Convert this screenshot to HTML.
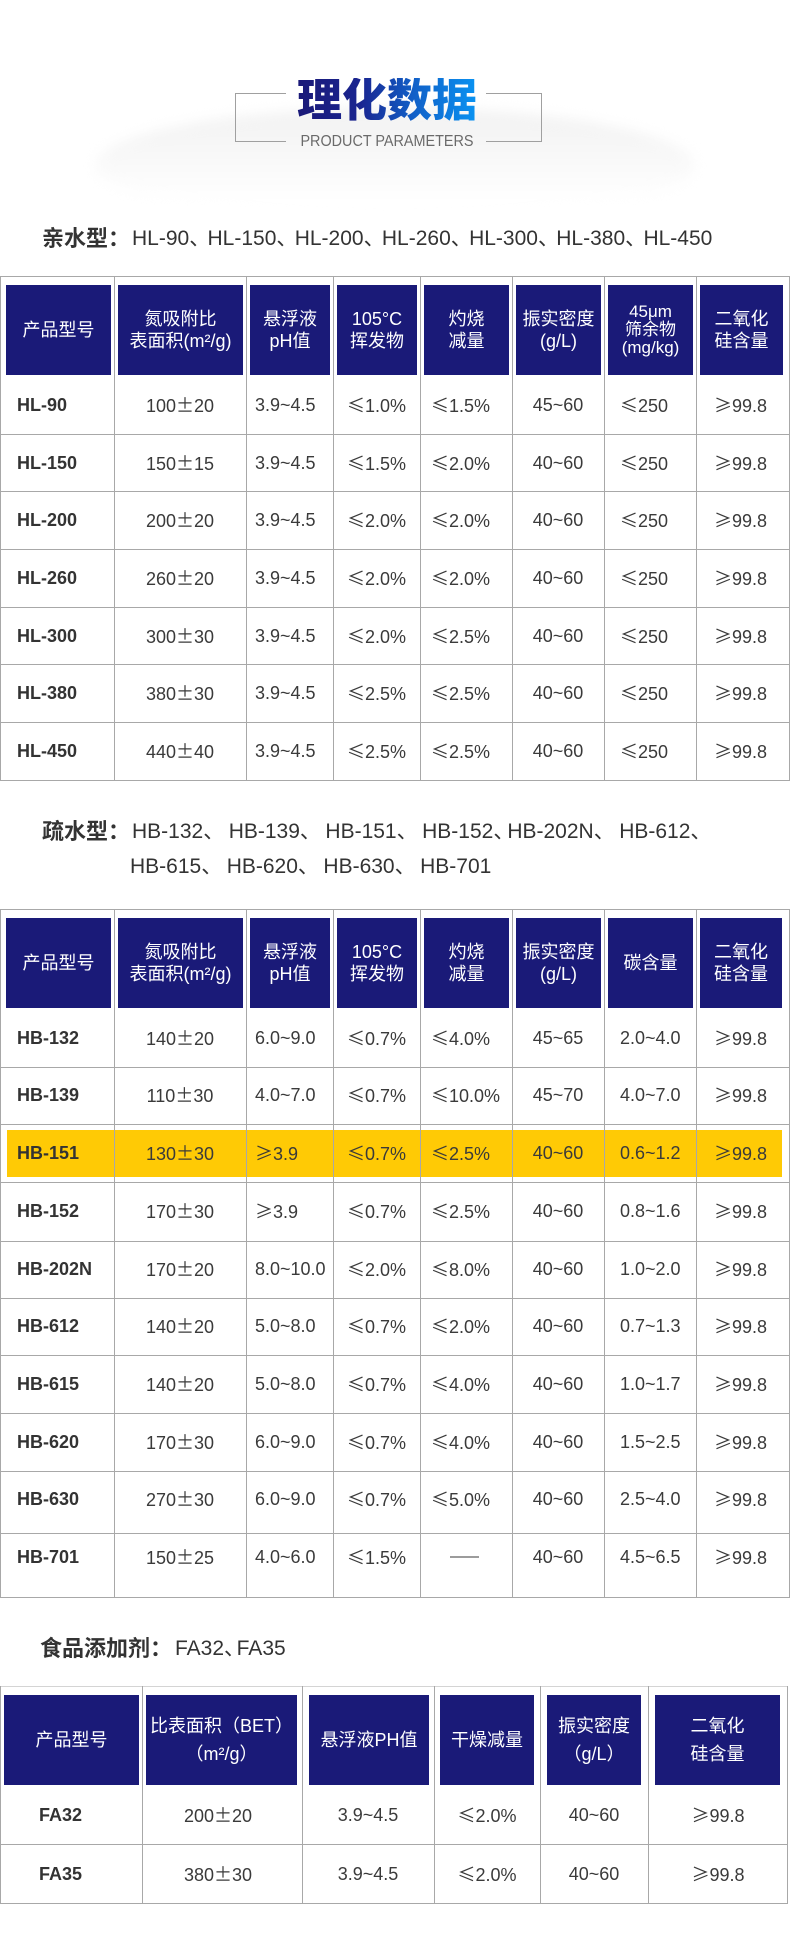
<!DOCTYPE html>
<html lang="zh">
<head>
<meta charset="utf-8">
<style>
html,body{margin:0;padding:0;background:#fff;}
body{width:790px;height:1950px;position:relative;overflow:hidden;font-family:"Liberation Sans","Noto Sans CJK SC",sans-serif;color:#333;}
.abs{position:absolute;}
.glow{position:absolute;left:95px;top:108px;width:600px;height:115px;border-radius:50%;background:linear-gradient(to bottom,#f2f2f2 0%,#f7f7f7 35%,#ffffff 80%);filter:blur(6px);}
.title{position:absolute;left:297px;top:78px;height:46px;line-height:46px;font-size:45px;font-weight:900;font-family:"Liberation Sans","Noto Sans CJK SC",sans-serif;white-space:nowrap;background:linear-gradient(to right,#1b1a78 0%,#1a2590 35%,#1160c8 65%,#0a93f2 100%);-webkit-background-clip:text;background-clip:text;color:transparent;}
.sub{position:absolute;left:237px;top:132px;width:300px;height:20px;line-height:20px;text-align:center;font-size:16px;color:#6a6a6a;white-space:nowrap;transform:scaleX(0.9);transform-origin:50% 50%;}
.bl{position:absolute;background:#a0a0a0;}
.sec{position:absolute;height:35px;line-height:35px;white-space:nowrap;color:#333;}
.sc{font-size:22px;font-weight:bold;font-family:"Liberation Sans","Noto Sans CJK SC",sans-serif;}
.sl{font-size:21px;}
.sl i{display:inline-block;font-style:normal;overflow:visible;}
.hl{position:absolute;left:0;width:790px;height:1px;background:#a8a8a8;}
.vl{position:absolute;width:1px;background:#a8a8a8;}
.hd{position:absolute;background:#1a1a78;color:#fff;font-size:18px;line-height:22px;text-align:center;display:flex;align-items:center;justify-content:center;}
.hd3{font-size:17px;line-height:18.3px;}
.t3 .hd{line-height:28px;}
.row{position:absolute;left:0;width:790px;height:30px;}
.c{position:absolute;top:0;height:30px;line-height:30px;white-space:nowrap;font-size:18px;color:#3a3a3a;}
.s{font-family:"Noto Sans CJK SC",sans-serif;}
.a1{left:17px;font-weight:bold;color:#333;}
.a2{left:114px;width:132px;text-align:center;}
.a3{left:255px;}
.a4{left:347px;}
.a5{left:431px;}
.a6{left:512px;width:92px;text-align:center;}
.a7{left:620px;}
.a8{left:714px;}
.b1{left:39px;font-weight:bold;color:#333;}
.b2{left:138px;width:160px;text-align:center;}
.b3{left:302px;width:132px;text-align:center;}
.b4{left:434px;width:106px;text-align:center;}
.b5{left:540px;width:108px;text-align:center;}
.b6{left:648px;width:140px;text-align:center;}
.dash{font-size:14.5px;left:450px;}
</style>
</head>
<body>

<!-- Header -->
<div class="glow"></div>
<div class="title">理化数据</div>
<div class="bl" style="left:235px;top:93px;width:51px;height:1px;"></div>
<div class="bl" style="left:235px;top:93px;width:1px;height:49px;"></div>
<div class="bl" style="left:235px;top:141px;width:51px;height:1px;"></div>
<div class="bl" style="left:486px;top:93px;width:56px;height:1px;"></div>
<div class="bl" style="left:541px;top:93px;width:1px;height:49px;"></div>
<div class="bl" style="left:486px;top:141px;width:56px;height:1px;"></div>
<div class="sub">PRODUCT PARAMETERS</div>

<!-- Section 1 title -->
<div class="sec sc" style="left:42px;top:221px;">亲水型：</div>
<div class="sec sl" style="left:132px;top:221px;">HL-90<i style="width:18.3px">、</i>HL-150<i style="width:18.3px">、</i>HL-200<i style="width:18.3px">、</i>HL-260<i style="width:18.3px">、</i>HL-300<i style="width:18.3px">、</i>HL-380<i style="width:18.3px">、</i>HL-450</div>

<!-- Table 1 -->
<div class="hl" style="top:276px"></div>
<div class="hl" style="top:434px"></div>
<div class="hl" style="top:491px"></div>
<div class="hl" style="top:549px"></div>
<div class="hl" style="top:607px"></div>
<div class="hl" style="top:664px"></div>
<div class="hl" style="top:722px"></div>
<div class="hl" style="top:780px"></div>
<div class="vl" style="left:0;top:276px;height:505px"></div>
<div class="vl" style="left:114px;top:276px;height:505px"></div>
<div class="vl" style="left:246px;top:276px;height:505px"></div>
<div class="vl" style="left:333px;top:276px;height:505px"></div>
<div class="vl" style="left:420px;top:276px;height:505px"></div>
<div class="vl" style="left:512px;top:276px;height:505px"></div>
<div class="vl" style="left:604px;top:276px;height:505px"></div>
<div class="vl" style="left:696px;top:276px;height:505px"></div>
<div class="vl" style="left:789px;top:276px;height:505px"></div>

<div class="hd" style="left:6px;top:285px;width:105px;height:90px;">产品型号</div>
<div class="hd" style="left:118px;top:285px;width:125px;height:90px;">氮吸附比<br>表面积(m²/g)</div>
<div class="hd" style="left:250px;top:285px;width:80px;height:90px;">悬浮液<br>pH值</div>
<div class="hd" style="left:337px;top:285px;width:80px;height:90px;">105°C<br>挥发物</div>
<div class="hd" style="left:424px;top:285px;width:85px;height:90px;">灼烧<br>减量</div>
<div class="hd" style="left:516px;top:285px;width:85px;height:90px;">振实密度<br>(g/L)</div>
<div class="hd hd3" style="left:608px;top:285px;width:85px;height:90px;">45μm<br>筛余物<br>(mg/kg)</div>
<div class="hd" style="left:700px;top:285px;width:83px;height:90px;">二氧化<br>硅含量</div>

<div class="row" style="top:390px"><div class="c a1">HL-90</div><div class="c a2">100<span class="s">±</span>20</div><div class="c a3">3.9~4.5</div><div class="c a4"><span class="s">≤</span>1.0%</div><div class="c a5"><span class="s">≤</span>1.5%</div><div class="c a6">45~60</div><div class="c a7"><span class="s">≤</span>250</div><div class="c a8"><span class="s">≥</span>99.8</div></div>
<div class="row" style="top:448px"><div class="c a1">HL-150</div><div class="c a2">150<span class="s">±</span>15</div><div class="c a3">3.9~4.5</div><div class="c a4"><span class="s">≤</span>1.5%</div><div class="c a5"><span class="s">≤</span>2.0%</div><div class="c a6">40~60</div><div class="c a7"><span class="s">≤</span>250</div><div class="c a8"><span class="s">≥</span>99.8</div></div>
<div class="row" style="top:505px"><div class="c a1">HL-200</div><div class="c a2">200<span class="s">±</span>20</div><div class="c a3">3.9~4.5</div><div class="c a4"><span class="s">≤</span>2.0%</div><div class="c a5"><span class="s">≤</span>2.0%</div><div class="c a6">40~60</div><div class="c a7"><span class="s">≤</span>250</div><div class="c a8"><span class="s">≥</span>99.8</div></div>
<div class="row" style="top:563px"><div class="c a1">HL-260</div><div class="c a2">260<span class="s">±</span>20</div><div class="c a3">3.9~4.5</div><div class="c a4"><span class="s">≤</span>2.0%</div><div class="c a5"><span class="s">≤</span>2.0%</div><div class="c a6">40~60</div><div class="c a7"><span class="s">≤</span>250</div><div class="c a8"><span class="s">≥</span>99.8</div></div>
<div class="row" style="top:621px"><div class="c a1">HL-300</div><div class="c a2">300<span class="s">±</span>30</div><div class="c a3">3.9~4.5</div><div class="c a4"><span class="s">≤</span>2.0%</div><div class="c a5"><span class="s">≤</span>2.5%</div><div class="c a6">40~60</div><div class="c a7"><span class="s">≤</span>250</div><div class="c a8"><span class="s">≥</span>99.8</div></div>
<div class="row" style="top:678px"><div class="c a1">HL-380</div><div class="c a2">380<span class="s">±</span>30</div><div class="c a3">3.9~4.5</div><div class="c a4"><span class="s">≤</span>2.5%</div><div class="c a5"><span class="s">≤</span>2.5%</div><div class="c a6">40~60</div><div class="c a7"><span class="s">≤</span>250</div><div class="c a8"><span class="s">≥</span>99.8</div></div>
<div class="row" style="top:736px"><div class="c a1">HL-450</div><div class="c a2">440<span class="s">±</span>40</div><div class="c a3">3.9~4.5</div><div class="c a4"><span class="s">≤</span>2.5%</div><div class="c a5"><span class="s">≤</span>2.5%</div><div class="c a6">40~60</div><div class="c a7"><span class="s">≤</span>250</div><div class="c a8"><span class="s">≥</span>99.8</div></div>

<!-- Section 2 title -->
<div class="sec sc" style="left:42px;top:814px;">疏水型：</div>
<div class="sec sl" style="left:132px;top:814px;">HB-132<i style="width:25.5px">、</i>HB-139<i style="width:25.5px">、</i>HB-151<i style="width:25.5px">、</i>HB-152<i style="width:14px">、</i>HB-202N<i style="width:25.5px">、</i>HB-612<i style="width:20px">、</i></div>
<div class="sec sl" style="left:130px;top:849px;">HB-615<i style="width:25.5px">、</i>HB-620<i style="width:25.5px">、</i>HB-630<i style="width:25.5px">、</i>HB-701</div>

<!-- Table 2 -->
<div class="abs" style="left:7px;top:1130px;width:775px;height:47px;background:#ffca05;"></div>
<div class="hl" style="top:909px"></div>
<div class="hl" style="top:1067px"></div>
<div class="hl" style="top:1124px"></div>
<div class="hl" style="top:1182px"></div>
<div class="hl" style="top:1241px"></div>
<div class="hl" style="top:1298px"></div>
<div class="hl" style="top:1355px"></div>
<div class="hl" style="top:1413px"></div>
<div class="hl" style="top:1471px"></div>
<div class="hl" style="top:1533px"></div>
<div class="hl" style="top:1597px"></div>
<div class="vl" style="left:0;top:909px;height:689px"></div>
<div class="vl" style="left:114px;top:909px;height:689px"></div>
<div class="vl" style="left:246px;top:909px;height:689px"></div>
<div class="vl" style="left:333px;top:909px;height:689px"></div>
<div class="vl" style="left:420px;top:909px;height:689px"></div>
<div class="vl" style="left:512px;top:909px;height:689px"></div>
<div class="vl" style="left:604px;top:909px;height:689px"></div>
<div class="vl" style="left:696px;top:909px;height:689px"></div>
<div class="vl" style="left:789px;top:909px;height:689px"></div>

<div class="hd" style="left:6px;top:918px;width:105px;height:90px;">产品型号</div>
<div class="hd" style="left:118px;top:918px;width:125px;height:90px;">氮吸附比<br>表面积(m²/g)</div>
<div class="hd" style="left:250px;top:918px;width:80px;height:90px;">悬浮液<br>pH值</div>
<div class="hd" style="left:337px;top:918px;width:80px;height:90px;">105°C<br>挥发物</div>
<div class="hd" style="left:424px;top:918px;width:85px;height:90px;">灼烧<br>减量</div>
<div class="hd" style="left:516px;top:918px;width:85px;height:90px;">振实密度<br>(g/L)</div>
<div class="hd" style="left:608px;top:918px;width:85px;height:90px;">碳含量</div>
<div class="hd" style="left:700px;top:918px;width:82px;height:90px;">二氧化<br>硅含量</div>

<div class="row" style="top:1023px"><div class="c a1">HB-132</div><div class="c a2">140<span class="s">±</span>20</div><div class="c a3">6.0~9.0</div><div class="c a4"><span class="s">≤</span>0.7%</div><div class="c a5"><span class="s">≤</span>4.0%</div><div class="c a6">45~65</div><div class="c a7">2.0~4.0</div><div class="c a8"><span class="s">≥</span>99.8</div></div>
<div class="row" style="top:1080px"><div class="c a1">HB-139</div><div class="c a2">110<span class="s">±</span>30</div><div class="c a3">4.0~7.0</div><div class="c a4"><span class="s">≤</span>0.7%</div><div class="c a5"><span class="s">≤</span>10.0%</div><div class="c a6">45~70</div><div class="c a7">4.0~7.0</div><div class="c a8"><span class="s">≥</span>99.8</div></div>
<div class="row" style="top:1138px"><div class="c a1">HB-151</div><div class="c a2">130<span class="s">±</span>30</div><div class="c a3"><span class="s">≥</span>3.9</div><div class="c a4"><span class="s">≤</span>0.7%</div><div class="c a5"><span class="s">≤</span>2.5%</div><div class="c a6">40~60</div><div class="c a7">0.6~1.2</div><div class="c a8"><span class="s">≥</span>99.8</div></div>
<div class="row" style="top:1196px"><div class="c a1">HB-152</div><div class="c a2">170<span class="s">±</span>30</div><div class="c a3"><span class="s">≥</span>3.9</div><div class="c a4"><span class="s">≤</span>0.7%</div><div class="c a5"><span class="s">≤</span>2.5%</div><div class="c a6">40~60</div><div class="c a7">0.8~1.6</div><div class="c a8"><span class="s">≥</span>99.8</div></div>
<div class="row" style="top:1254px"><div class="c a1">HB-202N</div><div class="c a2">170<span class="s">±</span>20</div><div class="c a3">8.0~10.0</div><div class="c a4"><span class="s">≤</span>2.0%</div><div class="c a5"><span class="s">≤</span>8.0%</div><div class="c a6">40~60</div><div class="c a7">1.0~2.0</div><div class="c a8"><span class="s">≥</span>99.8</div></div>
<div class="row" style="top:1311px"><div class="c a1">HB-612</div><div class="c a2">140<span class="s">±</span>20</div><div class="c a3">5.0~8.0</div><div class="c a4"><span class="s">≤</span>0.7%</div><div class="c a5"><span class="s">≤</span>2.0%</div><div class="c a6">40~60</div><div class="c a7">0.7~1.3</div><div class="c a8"><span class="s">≥</span>99.8</div></div>
<div class="row" style="top:1369px"><div class="c a1">HB-615</div><div class="c a2">140<span class="s">±</span>20</div><div class="c a3">5.0~8.0</div><div class="c a4"><span class="s">≤</span>0.7%</div><div class="c a5"><span class="s">≤</span>4.0%</div><div class="c a6">40~60</div><div class="c a7">1.0~1.7</div><div class="c a8"><span class="s">≥</span>99.8</div></div>
<div class="row" style="top:1427px"><div class="c a1">HB-620</div><div class="c a2">170<span class="s">±</span>30</div><div class="c a3">6.0~9.0</div><div class="c a4"><span class="s">≤</span>0.7%</div><div class="c a5"><span class="s">≤</span>4.0%</div><div class="c a6">40~60</div><div class="c a7">1.5~2.5</div><div class="c a8"><span class="s">≥</span>99.8</div></div>
<div class="row" style="top:1484px"><div class="c a1">HB-630</div><div class="c a2">270<span class="s">±</span>30</div><div class="c a3">6.0~9.0</div><div class="c a4"><span class="s">≤</span>0.7%</div><div class="c a5"><span class="s">≤</span>5.0%</div><div class="c a6">40~60</div><div class="c a7">2.5~4.0</div><div class="c a8"><span class="s">≥</span>99.8</div></div>
<div class="row" style="top:1542px"><div class="c a1">HB-701</div><div class="c a2">150<span class="s">±</span>25</div><div class="c a3">4.0~6.0</div><div class="c a4"><span class="s">≤</span>1.5%</div><div class="c dash">——</div><div class="c a6">40~60</div><div class="c a7">4.5~6.5</div><div class="c a8"><span class="s">≥</span>99.8</div></div>

<!-- Section 3 title -->
<div class="sec sc" style="left:40px;top:1631px;">食品添加剂：</div>
<div class="sec sl" style="left:175px;top:1631px;">FA32<i style="width:12.6px">、</i>FA35</div>

<!-- Table 3 -->
<div class="t3">
<div class="hl" style="top:1686px;width:788px;background:#d4d4d4"></div>
<div class="hl" style="top:1844px;width:788px"></div>
<div class="hl" style="top:1903px;width:788px"></div>
<div class="vl" style="left:0;top:1686px;height:218px"></div>
<div class="vl" style="left:142px;top:1686px;height:218px"></div>
<div class="vl" style="left:302px;top:1686px;height:218px"></div>
<div class="vl" style="left:434px;top:1686px;height:218px"></div>
<div class="vl" style="left:540px;top:1686px;height:218px"></div>
<div class="vl" style="left:648px;top:1686px;height:218px"></div>
<div class="vl" style="left:787px;top:1686px;height:218px"></div>

<div class="hd" style="left:4px;top:1695px;width:135px;height:90px;">产品型号</div>
<div class="hd" style="left:146px;top:1695px;width:151px;height:90px;">比表面积（BET）<br>（m²/g）</div>
<div class="hd" style="left:309px;top:1695px;width:120px;height:90px;">悬浮液PH值</div>
<div class="hd" style="left:440px;top:1695px;width:94px;height:90px;">干燥减量</div>
<div class="hd" style="left:547px;top:1695px;width:94px;height:90px;">振实密度<br>（g/L）</div>
<div class="hd" style="left:655px;top:1695px;width:125px;height:90px;">二氧化<br>硅含量</div>

<div class="row" style="top:1800px"><div class="c b1">FA32</div><div class="c b2">200<span class="s">±</span>20</div><div class="c b3">3.9~4.5</div><div class="c b4"><span class="s">≤</span>2.0%</div><div class="c b5">40~60</div><div class="c b6"><span class="s">≥</span>99.8</div></div>
<div class="row" style="top:1859px"><div class="c b1">FA35</div><div class="c b2">380<span class="s">±</span>30</div><div class="c b3">3.9~4.5</div><div class="c b4"><span class="s">≤</span>2.0%</div><div class="c b5">40~60</div><div class="c b6"><span class="s">≥</span>99.8</div></div>
</div>

</body>
</html>
